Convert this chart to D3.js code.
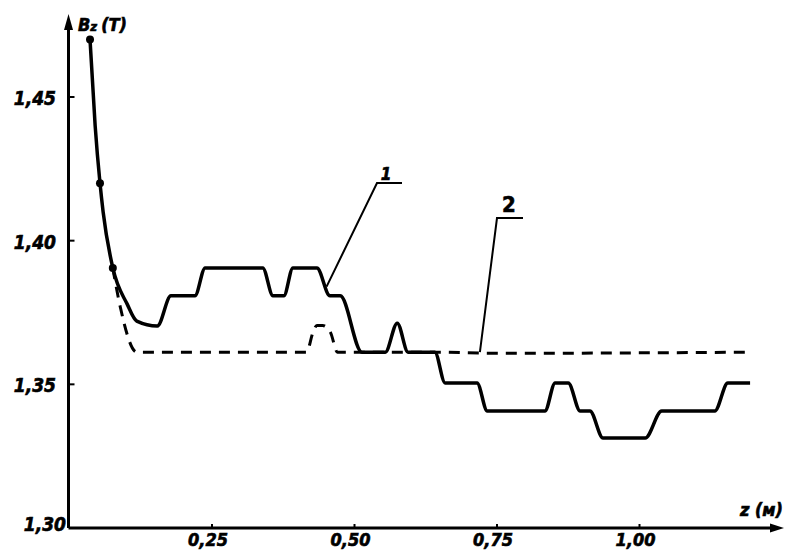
<!DOCTYPE html>
<html>
<script src='https://d3js.org/d3.v7.min.js'></script>
<style>
body { margin: 0; background: white; }
text { font-family: "DejaVu Sans Condensed", "Liberation Sans Narrow", "DejaVu Sans", sans-serif; font-weight: bold; font-style: italic; stroke: black; stroke-width: 0.6px; }
</style>
<body>
<svg width=786 height=552></svg>
<script>

// curve 1 (solid) : z in metres, Bz in tesla
var z1 = [0.036, 0.045, 0.0535, 0.059, 0.076, 0.101, 0.118, 0.154, 0.178, 0.220, 0.238, 0.339, 0.357, 0.376, 0.392,
          0.434, 0.457, 0.475, 0.513, 0.554, 0.575, 0.594, 0.641, 0.659, 0.715, 0.733, 0.834, 0.852, 0.875, 0.896,
          0.913, 0.936, 1.010, 1.039, 1.132, 1.155, 1.194];
var b1 = [1.470, 1.440, 1.420, 1.410, 1.3905, 1.378, 1.372, 1.3703, 1.3808, 1.3808, 1.3905, 1.3905, 1.3808, 1.3808, 1.3905,
          1.3905, 1.3808, 1.3808, 1.3612, 1.3612, 1.3713, 1.3612, 1.3612, 1.3505, 1.3505, 1.3407, 1.3407, 1.3505, 1.3505, 1.3407,
          1.3407, 1.3313, 1.3313, 1.3407, 1.3407, 1.3505, 1.3505];

// curve 2 (dashed)
var z2 = [0.076, 0.089, 0.118, 0.416, 0.427, 0.434, 0.444, 0.458, 0.470, 0.64, 0.75, 1.194];
var b2 = [1.3905, 1.377, 1.3612, 1.3612, 1.368, 1.3705, 1.3705, 1.368, 1.3612, 1.3612, 1.3608, 1.3612];

// measured points (dots)
var dotIdx = [0, 2, 4];

var xTicks = [0.25, 0.50, 0.75, 1.00];
var yTicks = [1.30, 1.35, 1.40, 1.45];

var svg = d3.select("svg");

var x = d3.scaleLinear().domain([0, 1]).range([69.5, 639.5]);
var y = d3.scaleLinear().domain([1.30, 1.45]).range([528, 97]);

var fmt = function(d) { return d3.format(".2f")(d).replace(".", ","); };

// axes
svg.append("line")
  .attr("x1", x(0) - 1).attr("y1", y(1.30))
  .attr("x2", 772).attr("y2", y(1.30))
  .style("stroke", "black").style("stroke-width", 3);
svg.append("path")
  .attr("d", "M784," + y(1.30) + " L770," + (y(1.30) - 4.5) + " L770," + (y(1.30) + 4.5) + " Z")
  .attr("fill", "black");

svg.append("line")
  .attr("x1", x(0) - 1).attr("y1", y(1.30))
  .attr("x2", x(0) - 1).attr("y2", 28)
  .style("stroke", "black").style("stroke-width", 3);
svg.append("path")
  .attr("d", "M" + (x(0) - 1) + ",14 L" + (x(0) - 5.5) + ",30 L" + (x(0) + 3.5) + ",30 Z")
  .attr("fill", "black");

// tick marks
svg.selectAll(".xt").data(xTicks).enter().append("line")
  .attr("x1", d => x(d)).attr("x2", d => x(d))
  .attr("y1", y(1.30)).attr("y2", y(1.30) - 4)
  .style("stroke", "black").style("stroke-width", 2);

svg.selectAll(".yt").data(yTicks.slice(1)).enter().append("line")
  .attr("x1", x(0)).attr("x2", x(0) + 5)
  .attr("y1", d => y(d)).attr("y2", d => y(d))
  .style("stroke", "black").style("stroke-width", 2);

// tick labels
svg.selectAll(".xl").data(xTicks).enter().append("text")
  .attr("x", d => x(d) - 4)
  .attr("y", 546)
  .attr("text-anchor", "middle")
  .style("font-size", "18px")
  .text(fmt);

svg.selectAll(".yl").data(yTicks).enter().append("text")
  .attr("x", d => d == 1.30 ? 66 : 56)
  .attr("y", d => d == 1.30 ? y(d) + 3 : y(d) + 8)
  .attr("text-anchor", "end")
  .style("font-size", "19px")
  .text(fmt);

// axis titles
var bz = svg.append("text").attr("x", 78).attr("y", 31).style("font-size", "18px");
bz.append("tspan").text("B");
bz.append("tspan").style("font-size", "13px").text("z");
bz.append("tspan").attr("dx", 4).text("(Т)");

svg.append("text")
  .attr("x", 783).attr("y", 516)
  .attr("text-anchor", "end")
  .style("font-size", "18px")
  .text("z (м)");

// curves
var line = d3.line()
  .x(d => x(d[0]))
  .y(d => y(d[1]))
  .curve(d3.curveMonotoneX);

svg.append("path")
  .datum(d3.zip(z2, b2))
  .attr("d", line)
  .attr("fill", "none")
  .style("stroke", "black")
  .style("stroke-width", 3)
  .style("stroke-dasharray", "11,8");

svg.append("path")
  .datum(d3.zip(z1, b1))
  .attr("d", line)
  .attr("fill", "none")
  .style("stroke", "black")
  .style("stroke-width", 3.5)
  .style("stroke-linejoin", "round");

svg.selectAll(".dot").data(dotIdx).enter().append("circle")
  .attr("cx", i => x(z1[i]))
  .attr("cy", i => y(b1[i]))
  .attr("r", 4)
  .attr("fill", "black");

// callout 1
svg.append("path")
  .attr("d", "M" + x(0.451) + "," + y(1.384) + " L377,183 L402,183")
  .attr("fill", "none")
  .style("stroke", "black").style("stroke-width", 2);
svg.append("text")
  .attr("x", 386).attr("y", 180)
  .attr("text-anchor", "middle")
  .style("font-size", "17px")
  .text("1");

// callout 2
svg.append("path")
  .attr("d", "M" + x(0.720) + "," + y(1.3612) + " L497,218 L523,218")
  .attr("fill", "none")
  .style("stroke", "black").style("stroke-width", 2);
svg.append("text")
  .attr("x", 509).attr("y", 212)
  .attr("text-anchor", "middle")
  .style("font-size", "22px")
  .style("font-style", "normal")
  .text("2");

</script>
</body>
</html>
